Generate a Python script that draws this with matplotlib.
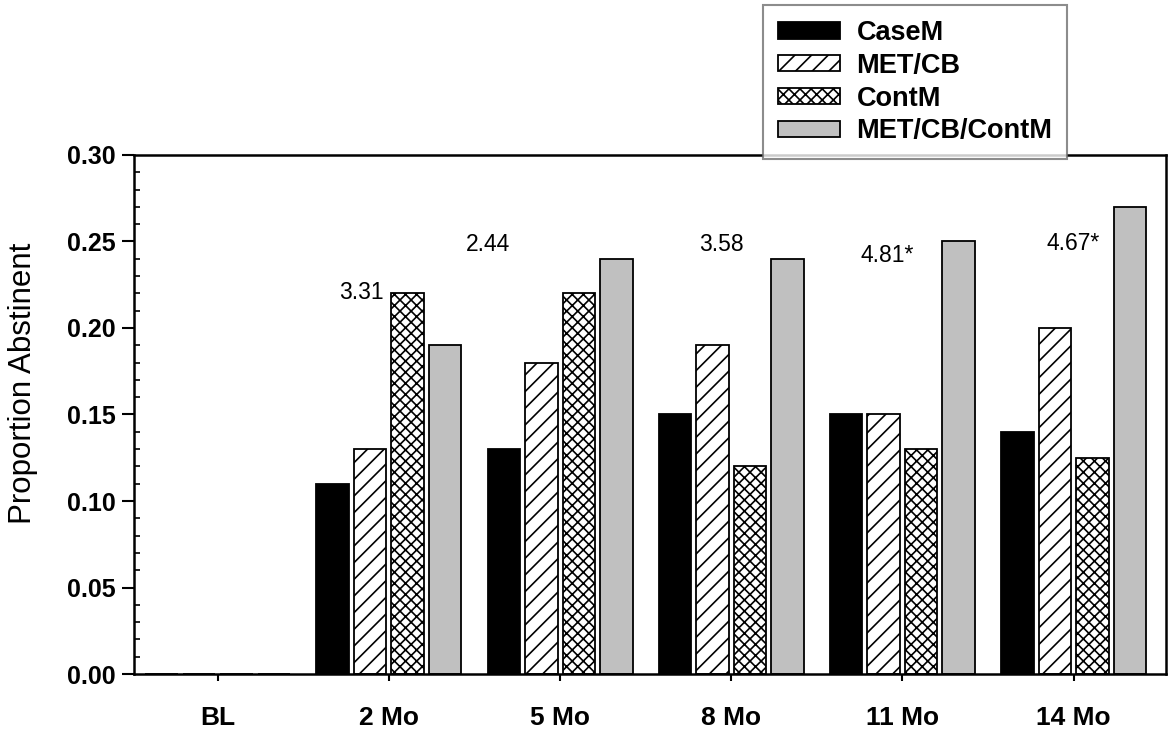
import matplotlib.pyplot as plt
import numpy as np

plt.rcParams['font.family'] = ['Liberation Sans', 'DejaVu Sans']
plt.rcParams['hatch.linewidth'] = 1.2

# visits and proportion abstinent per condition
visits = ['BL', '2 Mo', '5 Mo', '8 Mo', '11 Mo', '14 Mo']
casem = [0, 0.11, 0.13, 0.15, 0.15, 0.14]
metcb = [0, 0.13, 0.18, 0.19, 0.15, 0.20]
contm = [0, 0.22, 0.22, 0.12, 0.13, 0.125]
metcb_contm = [0, 0.19, 0.24, 0.24, 0.25, 0.27]

# odds-ratio labels over the later visits
or_labels = ['3.31', '2.44', '3.58', '4.81*', '4.67*']
or_visit = [1, 2, 3, 4, 5]
or_dx = [-0.16, -0.42, -0.06, -0.09, 0.0]
or_y = [0.2207, 0.248, 0.248, 0.242, 0.249]

fig = plt.figure(figsize=(11.71, 7.32), dpi=100)
ax = fig.add_axes([0.1144, 0.0792, 0.8813, 0.7091])

x = np.arange(len(visits))
w = 0.19
step = 0.219
series = [
    (casem, 'CaseM', dict(color='black', edgecolor='black')),
    (metcb, 'MET/CB', dict(color='white', edgecolor='black', hatch='//')),
    (contm, 'ContM', dict(color='white', edgecolor='black', hatch='xxx')),
    (metcb_contm, 'MET/CB/ContM', dict(color='#c0c0c0', edgecolor='black')),
]
for i, (vals, name, style) in enumerate(series):
    ax.bar(x + (i - 1.5) * step, vals, w, label=name, linewidth=1.3, **style)

for lab, v, dx, yy in zip(or_labels, or_visit, or_dx, or_y):
    ax.text(v + dx, yy, lab, ha='center', va='center', fontsize=16.5)

ax.set_xlim(-0.49, 5.54)
ax.set_ylim(0, 0.30)
ax.set_xticks(x)
ax.set_xticklabels(visits, fontsize=19, fontweight='bold')
yt = np.arange(0, 0.31, 0.05)
ax.set_yticks(yt)
ax.set_yticklabels(['%.2f' % t for t in yt], fontsize=18, fontweight='bold')
ax.set_yticks(np.arange(0, 0.301, 0.01), minor=True)
ax.tick_params(axis='y', which='major', direction='out', length=9, width=1.5, pad=4)
ax.tick_params(axis='y', which='minor', direction='in', length=4, width=1.2)
ax.tick_params(axis='x', which='major', direction='out', length=5, width=1.5, pad=18)
ax.set_ylabel('Proportion Abstinent', fontsize=22.5)
ax.yaxis.set_label_coords(-0.093, 0.56)
for s in ax.spines.values():
    s.set_linewidth(1.8)

leg = ax.legend(loc='upper left', bbox_to_anchor=(0.6516, 0.993),
                bbox_transform=fig.transFigure, prop={'weight': 'bold', 'size': 19.5},
                frameon=True, fancybox=False, handlelength=2.3, handleheight=0.55,
                handletextpad=0.6, labelspacing=0.25, borderpad=0.55, borderaxespad=0)
leg.get_frame().set_edgecolor('#707070')
leg.get_frame().set_linewidth(1.5)

fig.savefig('out.png', dpi=100)
